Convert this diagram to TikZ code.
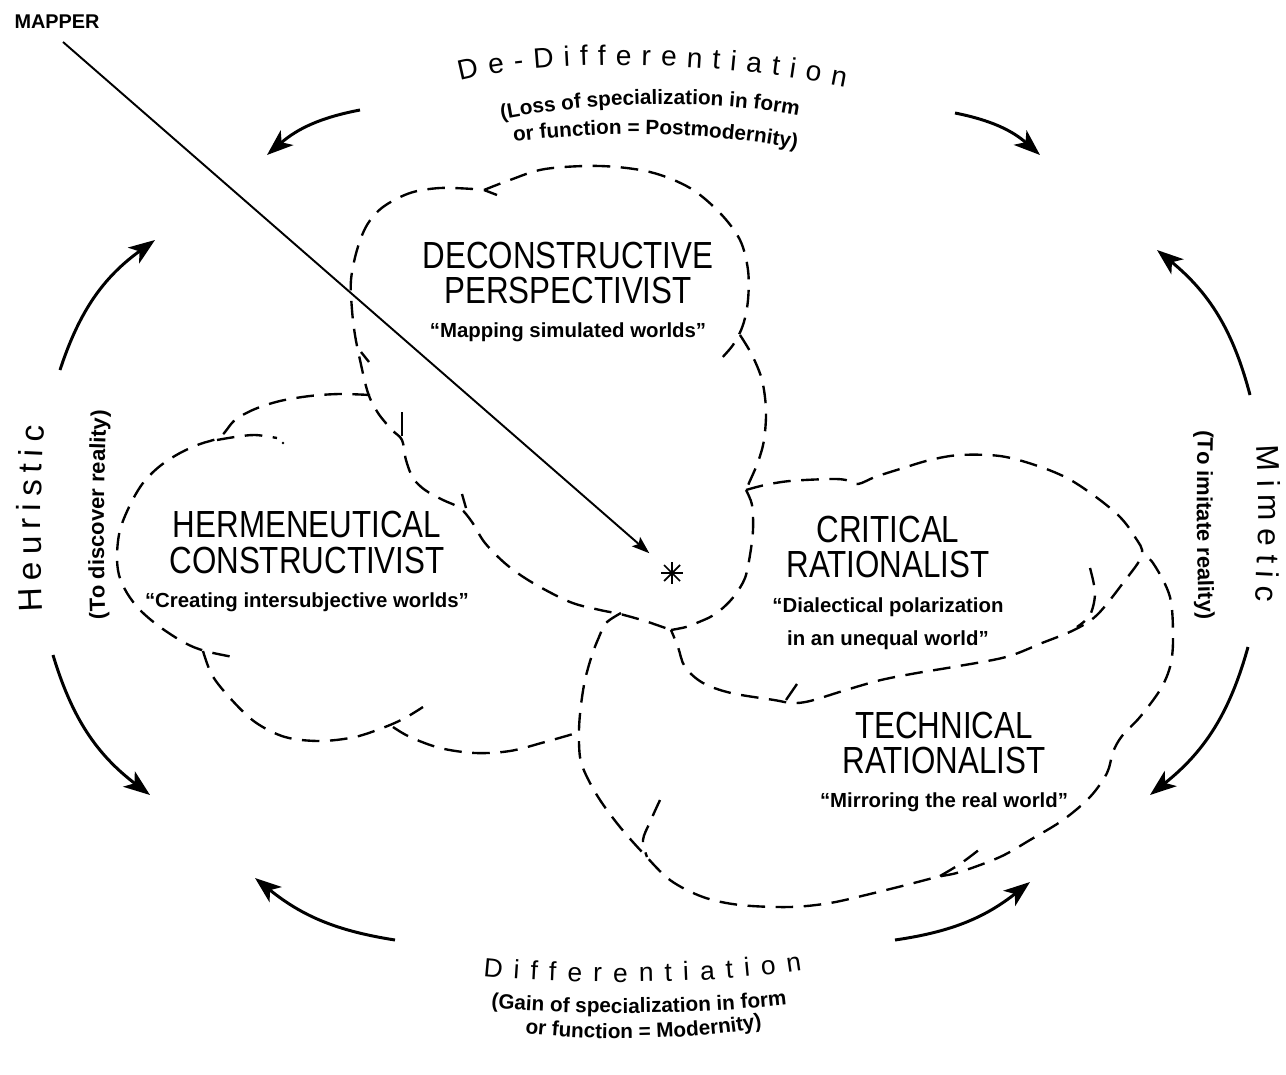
\documentclass[tikz,border=0pt]{standalone}
\usepackage{fontspec}
\setmainfont{Liberation Sans}
\newfontfamily\condf[FakeStretch=0.83]{Liberation Sans}
\usetikzlibrary{arrows.meta,decorations.text}
\tikzset{
  cloud/.style={line width=1.35pt, dash pattern=on 10pt off 6pt},
  tickline/.style={line width=1.35pt},
  cyc/.style={line width=1.7pt, -{Stealth[length=15pt,width=11pt,inset=4pt]}},
  ttl/.style={font={\condf\fontsize{21.5}{24}\selectfont}, anchor=base, inner sep=0pt},
  subt/.style={font={\bfseries\fontsize{11.6}{14}\selectfont}, anchor=base, inner sep=0pt},
}
\begin{document}
\begin{tikzpicture}[x=0.02cm,y=-0.02cm]
\useasboundingbox (0,0) rectangle (1286,1075);

% ---------- cloud texts ----------
\node[ttl] (dp1) at (568,268) {DECONSTRUCTIVE};
\node[ttl] (dp2) at (568,303) {PERSPECTIVIST};
\node[subt] (dps) at (568,337) {“Mapping simulated worlds”};

\node[ttl] (hc1) at (307,537) {HERMENEUTICAL};
\node[ttl] (hc2) at (307,573) {CONSTRUCTIVIST};
\node[subt] (hcs) at (307,607) {“Creating intersubjective worlds”};

\node[ttl] (cr1) at (888,542) {CRITICAL};
\node[ttl] (cr2) at (888,577) {RATIONALIST};
\node[subt] (crs1) at (888,612) {“Dialectical polarization};
\node[subt] (crs2) at (888,645) {in an unequal world”};

\node[ttl] (tr1) at (944,738) {TECHNICAL};
\node[ttl] (tr2) at (944,773) {RATIONALIST};
\node[subt] (trs) at (944,807) {“Mirroring the real world”};

% ---------- mapper ----------
\node[anchor=base, inner sep=0pt, font={\bfseries\fontsize{11.3}{13}\selectfont}] (mapper) at (57,29) {MAPPER};
\coordinate (mstart) at (63,42);
\node[circle, inner sep=0pt, minimum size=1.19cm] (star) at (672,573) {};
\draw[line width=1pt] (star.center) ++(-11,0) -- ++(22,0);
\draw[line width=1pt] (star.center) ++(0,-11) -- ++(0,22);
\draw[line width=1pt] (star.center) ++(-8,-8) -- ++(16,16);
\draw[line width=1pt] (star.center) ++(-8,8) -- ++(16,-16);
\draw[line width=1.1pt, -{Stealth[length=10pt,width=7pt,inset=2pt]}] (mstart) -- (star);

% ---------- deconstructive cloud ----------
\draw[cloud] plot[smooth,tension=.55] coordinates {(484,190) (510,180) (545,169) (600,166) (650,172) (690,188) (720,213) (740,240) (748,270) (748,300) (743,325) (733,345) (717,363)};
\draw[cloud] plot[smooth,tension=.55] coordinates {(740,335) (752,355) (762,380) (766,410) (764,440) (758,462) (749,483) (746,490)};
\draw[tickline] (497,195) -- (484,190);
\draw[cloud] plot[smooth,tension=.55] coordinates {(473,189) (440,188) (410,193) (383,207) (367,225) (357,250) (351,280) (352,310) (355,335) (360,360) (368,393) (378,413) (392,430) (402,440) (406,460) (413,478) (425,490) (443,500) (460,508) (472,522) (485,543) (507,565) (533,583) (570,602) (600,610) (620,614) (645,621) (671,630)};
\draw[tickline] (402,412) -- (402,436);
\draw[tickline] (462,494) -- (466,508);
\draw[tickline] (361,352) -- (369,362);

% ---------- critical cloud ----------
\draw[cloud] plot[smooth,tension=.55] coordinates {(746,490) (765,485) (790,481) (830,479) (846,480) (858,484) (875,477) (900,469) (930,460) (960,455) (1000,456) (1035,465) (1067,478) (1096,497) (1120,517) (1135,537) (1142,555) (1123,583) (1097,615) (1074,630) (1042,643) (1006,657) (953,667) (917,673) (881,680) (846,690) (810,701) (792,703) (774,700) (731,693) (703,683) (685,667) (678,647) (671,630)};
\draw[cloud] plot[smooth,tension=.55] coordinates {(746,490) (752,505) (753,530) (750,555) (745,578) (735,595) (724,607) (712,616) (699,622) (686,627) (671,630)};
\draw[cloud] plot[smooth,tension=.55] coordinates {(1090,568) (1095,593) (1090,615) (1077,627)};
\draw[tickline] (786,700) -- (797,684);

% ---------- technical cloud ----------
\draw[cloud] plot[smooth,tension=.55] coordinates {(621,613) (606,623) (599,637) (592,655) (585,680) (581,705) (579,730) (580,757) (586,775) (600,800) (620,827) (643,853) (670,880) (703,897) (740,905) (790,907) (830,903) (870,894) (910,884) (937,877) (960,872) (1000,857) (1030,840) (1063,820) (1090,797) (1107,773) (1113,752) (1122,736) (1140,717) (1160,690) (1170,667) (1173,640) (1170,597) (1153,563) (1142,555)};
\draw[cloud] plot[smooth,tension=.55] coordinates {(660,800) (650,822) (643,840) (647,857)};
\draw[cloud] plot[smooth,tension=.55] coordinates {(940,876) (960,864) (980,849)};

% ---------- hermeneutical cloud ----------
\draw[cloud] plot[smooth,tension=.55] coordinates {(370,395) (340,394) (310,396) (280,401) (255,409) (235,420) (220,437) (200,444) (180,453) (160,466) (143,483) (130,505) (120,530) (117,555) (119,575) (127,593) (140,610) (160,627) (185,643) (205,651) (233,657)};
\draw[cloud] plot[smooth,tension=.55] coordinates {(217,440) (235,437) (255,435) (277,438)};
\fill (283,443) circle (1.3);
\draw[cloud] plot[smooth,tension=.55] coordinates {(203,651) (212,675) (230,698) (255,722) (285,737) (320,741) (355,737) (385,727) (405,718) (423,707)};
\draw[cloud] plot[smooth,tension=.55] coordinates {(393,727) (410,737) (440,748) (475,753) (510,751) (545,742) (580,732)};

% ---------- cycle arrows ----------
\draw[cyc] (360,110) to[bend right=15] (267,155);
\draw[cyc] (955,113) to[bend left=15] (1040,155);
\draw[cyc] (1250,395) to[bend right=18] (1157,250);
\draw[cyc] (1248,647) to[bend left=18] (1150,795);
\draw[cyc] (895,940) to[bend right=15] (1030,882);
\draw[cyc] (395,940) to[bend left=15] (255,878);
\draw[cyc] (53,655) to[bend right=18] (150,795);
\draw[cyc] (60,370) to[bend left=18] (155,240);

% ---------- curved labels ----------
\path[decorate, decoration={text along path, text align={fit to path},
  text={|\fontsize{16}{18}\selectfont|De-Differentiation}}]
  (460,81) .. controls (540,60) and (700,58) .. (845,87);
\path[decorate, decoration={text along path, text align=center,
  text={|\bfseries\fontsize{11.8}{14}\selectfont|(Loss of specialization in form}}]
  (485,123) .. controls (580,101) and (720,97) .. (815,119);
\path[decorate, decoration={text along path, text align=center,
  text={|\bfseries\fontsize{11.8}{14}\selectfont|or function = Postmodernity)}}]
  (494,144) .. controls (580,132) and (700,127) .. (816,153);

\path[decorate, decoration={text along path, text align={fit to path},
  text={|\fontsize{15}{18}\selectfont|Differentiation}}]
  (483,976) .. controls (560,984) and (700,986) .. (802,970);
\path[decorate, decoration={text along path, text align=center,
  text={|\bfseries\fontsize{11.8}{14}\selectfont|(Gain of specialization in form}}]
  (470,1006) .. controls (570,1016) and (700,1016) .. (808,1002);
\path[decorate, decoration={text along path, text align=center,
  text={|\bfseries\fontsize{11.8}{14}\selectfont|or function = Modernity)}}]
  (515,1032) .. controls (590,1042) and (690,1041) .. (772,1026);

\path[decorate, decoration={text along path, text align={fit to path},
  text={|\fontsize{19}{22}\selectfont|Heuristic}}]
  (43,611) .. controls (40,550) and (40,490) .. (44,426);
\path[decorate, decoration={text along path, text align=center,
  text={|\bfseries\fontsize{12.5}{15}\selectfont|(To discover reality)}}]
  (106,640) .. controls (103,570) and (103,460) .. (108,390);

\path[decorate, decoration={text along path, text align={fit to path},
  text={|\fontsize{18}{21}\selectfont|Mimetic}}]
  (1256,446) .. controls (1259,495) and (1259,550) .. (1255,601);
\path[decorate, decoration={text along path, text align=center,
  text={|\bfseries\fontsize{12.5}{15}\selectfont|(To imitate reality)}}]
  (1199,400) .. controls (1196,470) and (1196,580) .. (1201,650);
\end{tikzpicture}
\end{document}
